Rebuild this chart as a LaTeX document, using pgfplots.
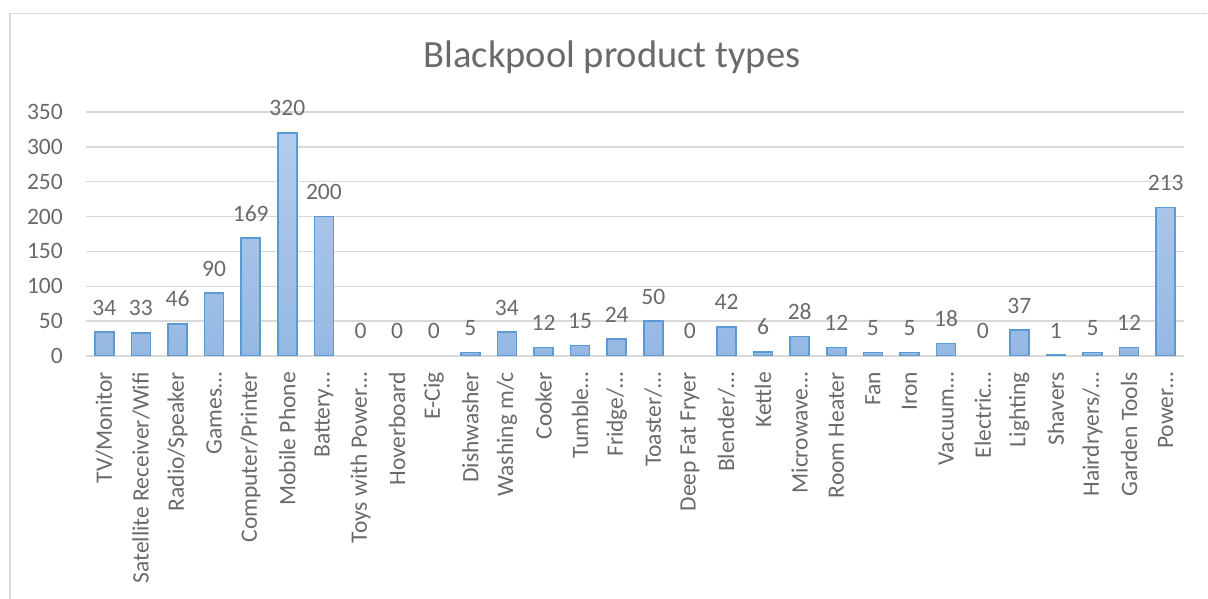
\documentclass[border=0pt]{standalone}
\usepackage{fontspec}
\setmainfont{Carlito}
\usepackage{pgfplots}
\pgfplotsset{compat=1.18}
\definecolor{txt}{HTML}{6A6A6A}
\definecolor{gridc}{HTML}{D9D9D9}
\definecolor{barb}{HTML}{5B9BD5}
\definecolor{bartop}{HTML}{B3CCEC}
\definecolor{barbot}{HTML}{95B8E3}
\begin{document}
\begin{tikzpicture}[x=1bp,y=1bp]
\useasboundingbox (0,0) rectangle (1208,599);
\draw[gridc, line width=1.5bp] (10,0) -- (10,585.5) -- (1207,585.5);
\node[text=txt, anchor=base, inner sep=0pt, font=\fontsize{38.5bp}{42bp}\selectfont] at (612,531) {Blackpool product types};
\begin{axis}[
  at={(86bp,243bp)}, anchor=south west, scale only axis,
  width=1098bp, height=244bp,
  xmin=-0.5, xmax=29.5, ymin=0, ymax=350,
  ytick={0,50,...,350},
  xtick={0,...,29},
  xticklabels={TV/Monitor,Satellite Receiver/Wifi,Radio/Speaker,Games…,Computer/Printer,Mobile Phone,Battery…,Toys with Power…,Hoverboard,E-Cig,Dishwasher,Washing m/c,Cooker,Tumble…,Fridge/…,Toaster/…,Deep Fat Fryer,Blender/…,Kettle,Microwave…,Room Heater,Fan,Iron,Vacuum…,Electric…,Lighting,Shavers,Hairdryers/…,Garden Tools,Power…},
  axis line style={draw=none},
  tick style={draw=none},
  major tick length=0pt,
  ymajorgrids,
  grid style={gridc, line width=1.5bp},
  /pgf/number format/assume math mode=true,
  ticklabel style={text=txt, font=\fontsize{23.5bp}{26bp}\selectfont, inner sep=0pt},
  yticklabel shift=23bp,
  xticklabel shift=16bp,
  xticklabel style={rotate=90, anchor=east},
  ybar, bar width=19bp,
  nodes near coords,
  every node near coord/.append style={text=txt, font=\fontsize{23.5bp}{26bp}\selectfont, anchor=base, yshift=17bp, inner sep=0pt},
]
\addplot[bar shift=0pt, draw=barb, line width=1.6bp, top color=bartop, bottom color=barbot] coordinates {
(0,34) (1,33) (2,46) (3,90) (4,169) (5,320) (6,200) (10,5) (11,34) (12,12) (13,15) (14,24) (15,50) (17,42) (18,6) (19,28) (20,12) (21,5) (22,5) (23,18) (25,37) (26,1) (27,5) (28,12) (29,213)};
\addplot[bar shift=0pt, draw=none, fill=none] coordinates {
(7,0) (8,0) (9,0) (16,0) (24,0)};
\end{axis}
\end{tikzpicture}
\end{document}
